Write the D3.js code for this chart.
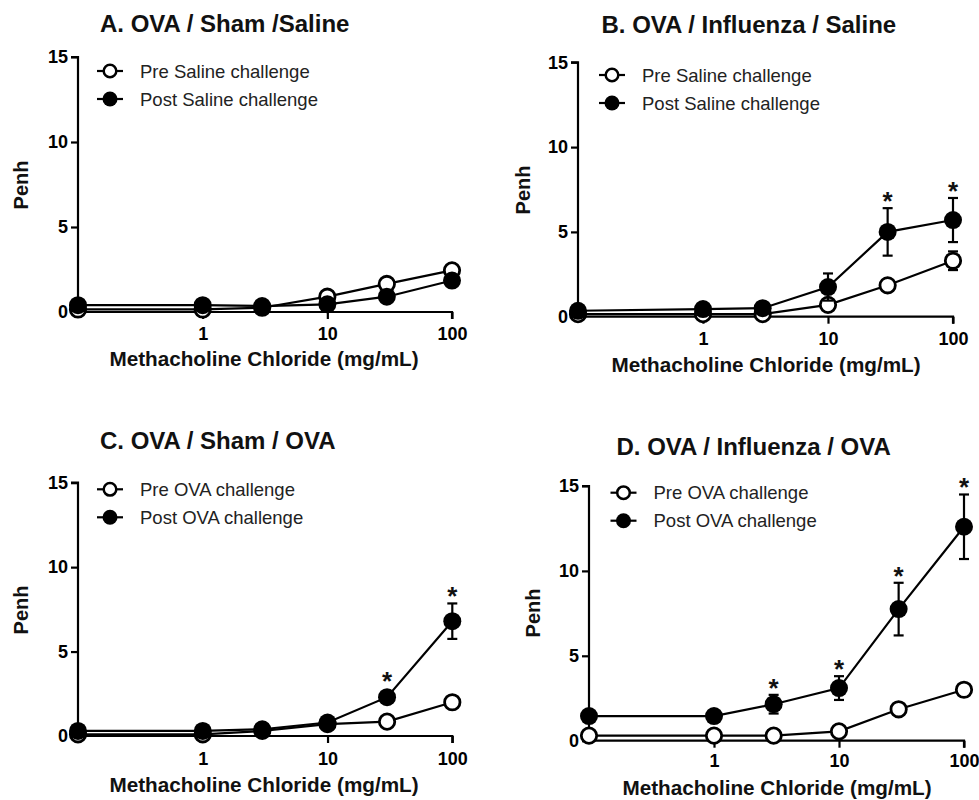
<!DOCTYPE html>
<html>
<head>
<meta charset="utf-8">
<script src="https://cdn.jsdelivr.net/npm/d3@7"></script>
<style>
  html, body { margin: 0; padding: 0; background: #fff; }
  svg { display: block; font-family: "Liberation Sans", Arial, sans-serif; }
</style>
</head>
<body>
<svg id="chart" width="979" height="800"></svg>
<script>
// ---------------- DATA ----------------
const doses = [0.1, 1, 3, 10, 30, 100];       // first point = baseline shown at axis origin
const xTickValues = [1, 10, 100];
const xTickLabels = ["1", "10", "100"];
const yTickValues = [0, 5, 10, 15];

const titles = ["A. OVA / Sham /Saline", "B. OVA / Influenza / Saline", "C. OVA / Sham / OVA", "D. OVA / Influenza / OVA"];
const preLabels  = ["Pre Saline challenge", "Pre Saline challenge", "Pre OVA challenge", "Pre OVA challenge"];
const postLabels = ["Post Saline challenge", "Post Saline challenge", "Post OVA challenge", "Post OVA challenge"];
const xAxisTitle = "Methacholine Chloride (mg/mL)";
const yAxisTitle = "Penh";

// Panel A
const preA  = [0.15, 0.15, 0.25, 0.9, 1.65, 2.45];
const preAErr  = [0.05, 0.05, 0.05, 0.15, 0.2, 0.25];
const postA = [0.4, 0.4, 0.35, 0.45, 0.9, 1.85];
const postAErr = [0.05, 0.05, 0.05, 0.1, 0.15, 0.2];
const sigA = [0, 0, 0, 0, 0, 0];
// Panel B
const preB  = [0.15, 0.15, 0.15, 0.7, 1.85, 3.3];
const preBErr  = [0.05, 0.05, 0.05, 0.15, 0.2, 0.55];
const postB = [0.35, 0.45, 0.5, 1.75, 5.0, 5.7];
const postBErr = [0.05, 0.1, 0.1, 0.8, 1.4, 1.3];
const sigB = [0, 0, 0, 0, 1, 1];
// Panel C
const preC  = [0.1, 0.1, 0.3, 0.7, 0.85, 2.0];
const preCErr  = [0.05, 0.05, 0.05, 0.1, 0.15, 0.2];
const postC = [0.3, 0.3, 0.4, 0.8, 2.3, 6.8];
const postCErr = [0.05, 0.05, 0.1, 0.15, 0.3, 1.05];
const sigC = [0, 0, 0, 0, 1, 1];
// Panel D
const preD  = [0.3, 0.3, 0.3, 0.55, 1.85, 3.0];
const preDErr  = [0.05, 0.05, 0.05, 0.1, 0.15, 0.2];
const postD = [1.45, 1.45, 2.15, 3.1, 7.75, 12.6];
const postDErr = [0.1, 0.1, 0.55, 0.7, 1.55, 1.9];
const sigD = [0, 0, 1, 1, 1, 1];

const panelData = [
  {pre: preA, preErr: preAErr, post: postA, postErr: postAErr, sig: sigA},
  {pre: preB, preErr: preBErr, post: postB, postErr: postBErr, sig: sigB},
  {pre: preC, preErr: preCErr, post: postC, postErr: postCErr, sig: sigC},
  {pre: preD, preErr: preDErr, post: postD, postErr: postDErr, sig: sigD}
];

// ---------------- LAYOUT ----------------
const layout = [
  {x0: 78,    x1: 452,   y0: 312,   y15: 57,    titleX: 100,   titleY: 32,  legX: 110,   legY: 71,    ylabX: 28,  ylabY: 185, xlabX: 264, xlabY: 366, xtickY: 340},
  {x0: 578,   x1: 953,   y0: 316.7, y15: 62.3,  titleX: 601.5, titleY: 32.5, legX: 612,  legY: 75,    ylabX: 530, ylabY: 190, xlabX: 766, xlabY: 371.5, xtickY: 345},
  {x0: 78,    x1: 452.3, y0: 736,   y15: 482.7, titleX: 100,   titleY: 449, legX: 110,   legY: 489.3, ylabX: 28,  ylabY: 610, xlabX: 264, xlabY: 791.5, xtickY: 765},
  {x0: 589,   x1: 964,   y0: 740.7, y15: 486,   titleX: 616.5, titleY: 455, legX: 623.5, legY: 492.7, ylabX: 540, ylabY: 613, xlabX: 777, xlabY: 795, xtickY: 766.5}
];

const svg = d3.select("#chart");
const R = 9;
const LW = 2.2;
const FONT = "Liberation Sans, Arial, sans-serif";

layout.forEach((L, i) => {
  const D = panelData[i];
  const g = svg.append("g");
  const x = d3.scaleLog().domain([0.1, 100]).range([L.x0, L.x1]);
  const y = d3.scaleLinear().domain([0, 15]).range([L.y0, L.y15]);

  // title
  g.append("text").attr("x", L.titleX).attr("y", L.titleY)
    .attr("font-size", 24).attr("font-weight", "bold").attr("fill", "#111")
    .text(titles[i]);

  // y axis
  const yAxis = g.append("g").attr("transform", `translate(${L.x0},0)`)
    .call(d3.axisLeft(y).tickValues(yTickValues).tickSize(7).tickPadding(3).tickFormat(d3.format("d")));
  yAxis.select(".domain").attr("d", `M-7,${L.y15}H0V${L.y0}`).attr("stroke", "#000").attr("stroke-width", LW);
  yAxis.selectAll(".tick line").attr("stroke", "#000").attr("stroke-width", LW);
  yAxis.selectAll(".tick text").attr("font-size", 18).attr("font-weight", "bold").attr("fill", "#000")
    .attr("font-family", FONT);

  // x axis
  const xAxis = g.append("g").attr("transform", `translate(0,${L.y0})`)
    .call(d3.axisBottom(x).tickValues(xTickValues).tickSize(7).tickFormat((d, k) => xTickLabels[k]));
  xAxis.select(".domain").attr("d", `M${L.x0},0H${L.x1}V7`).attr("stroke", "#000").attr("stroke-width", LW);
  xAxis.selectAll(".tick line").attr("stroke", "#000").attr("stroke-width", LW);
  xAxis.selectAll(".tick text").attr("font-size", 18).attr("font-weight", "bold").attr("fill", "#000")
    .attr("font-family", FONT)
    .attr("y", null).attr("dy", null)
    .attr("transform", `translate(0,${L.xtickY - L.y0})`);

  // axis titles
  g.append("text").attr("transform", `translate(${L.ylabX},${L.ylabY}) rotate(-90)`)
    .attr("text-anchor", "middle").attr("font-size", 20).attr("font-weight", "bold").attr("fill", "#111")
    .text(yAxisTitle);
  g.append("text").attr("x", L.xlabX).attr("y", L.xlabY)
    .attr("text-anchor", "middle").attr("font-size", 20.7).attr("font-weight", "bold").attr("fill", "#111")
    .text(xAxisTitle);

  const line = d3.line().x(d => x(d.dose)).y(d => y(d.v));

  const series = [
    {vals: D.pre, errs: D.preErr, open: true},
    {vals: D.post, errs: D.postErr, open: false}
  ];

  series.forEach(s => {
    const pts = doses.map((dose, k) => ({dose, v: s.vals[k], e: s.errs[k]}));
    const sg = g.append("g");
    // error bars
    const eb = sg.selectAll(".eb").data(pts).enter().append("g");
    eb.append("line").attr("x1", d => x(d.dose)).attr("x2", d => x(d.dose))
      .attr("y1", d => y(d.v - d.e)).attr("y2", d => y(d.v + d.e))
      .attr("stroke", "#000").attr("stroke-width", LW);
    eb.append("line").attr("x1", d => x(d.dose) - 5).attr("x2", d => x(d.dose) + 5)
      .attr("y1", d => y(d.v + d.e)).attr("y2", d => y(d.v + d.e))
      .attr("stroke", "#000").attr("stroke-width", LW);
    eb.append("line").attr("x1", d => x(d.dose) - 5).attr("x2", d => x(d.dose) + 5)
      .attr("y1", d => y(d.v - d.e)).attr("y2", d => y(d.v - d.e))
      .attr("stroke", "#000").attr("stroke-width", LW);
    // line
    sg.append("path").datum(pts).attr("d", line)
      .attr("fill", "none").attr("stroke", "#000").attr("stroke-width", LW);
    // markers
    sg.selectAll("circle").data(pts).enter().append("circle")
      .attr("cx", d => x(d.dose)).attr("cy", d => y(d.v))
      .attr("r", s.open ? R - 1.3 : R)
      .attr("fill", s.open ? "#fff" : "#000")
      .attr("stroke", "#000").attr("stroke-width", s.open ? 2.8 : 0);
  });

  // asterisks
  const stars = doses.map((dose, k) => ({dose, v: D.post[k], e: D.postErr[k], s: D.sig[k]})).filter(d => d.s);
  g.selectAll(".star").data(stars).enter().append("text")
    .attr("x", d => x(d.dose))
    .attr("y", d => Math.min(y(d.v + d.e), y(d.v) - R) - 13 + 15)
    .attr("text-anchor", "middle").attr("font-size", 26).attr("font-weight", "bold").attr("fill", "#111")
    .text("*");

  // legend
  const legItems = [{label: preLabels[i], open: true}, {label: postLabels[i], open: false}];
  legItems.forEach((it, k) => {
    const ly = L.legY + k * 28;
    g.append("line").attr("x1", L.legX - 13).attr("x2", L.legX + 13).attr("y1", ly).attr("y2", ly)
      .attr("stroke", "#000").attr("stroke-width", LW);
    g.append("circle").attr("cx", L.legX).attr("cy", ly).attr("r", it.open ? 6.3 : 7.5)
      .attr("fill", it.open ? "#fff" : "#000").attr("stroke", "#000").attr("stroke-width", it.open ? 2.5 : 0);
    g.append("text").attr("x", L.legX + 30).attr("y", ly + 6.5)
      .attr("font-size", 18.5).attr("fill", "#222").text(it.label);
  });
});
</script>
</body>
</html>
